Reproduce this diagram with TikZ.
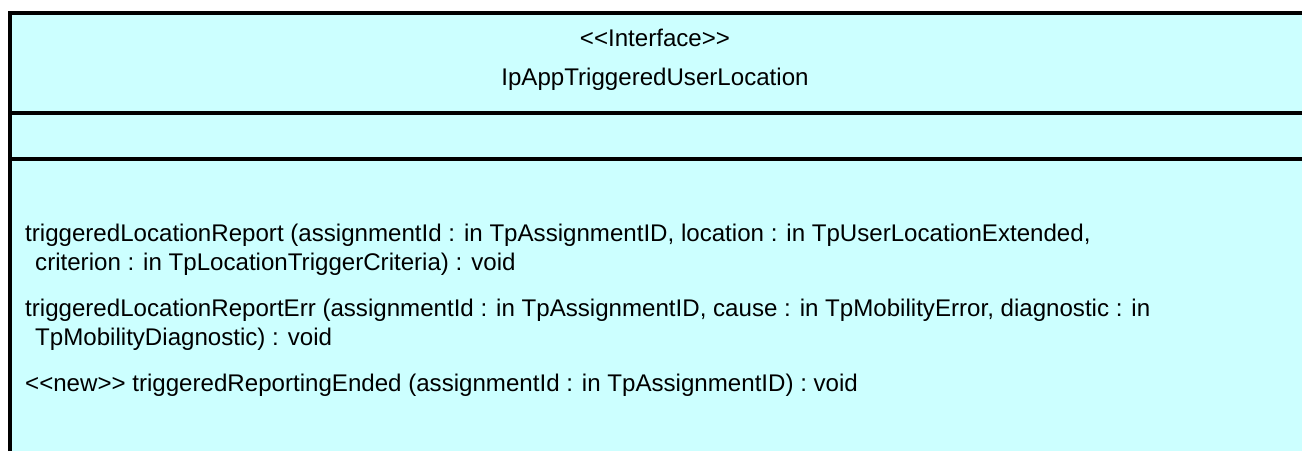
\documentclass[tikz,border=0pt]{standalone}
\usepackage{fontspec}
\setmainfont{Liberation Sans}
\usepackage{xcolor}
\usetikzlibrary{positioning}
\definecolor{classcyan}{RGB}{204,255,255}
\tikzstyle{rule} = [draw, line width=4pt]

\begin{document}
\begin{tikzpicture}[x=1pt, y=-1pt, header/.style={anchor=base, inner sep=0pt, font=\fontsize{24.1}{28}\selectfont}, oper/.style={anchor=base west, inner sep=0pt, font=\fontsize{24.1}{28}\selectfont}]
        \useasboundingbox (0,0) rectangle (1302,451);
        \fill[classcyan] (8,11) rectangle (1302,451);
        \path [rule] (10,451) -- (10,13) -- (1302,13);
        \path [rule] (8,113) -- (1302,113);
        \path [rule] (8,158.5) -- (1302,158.5);

        \node[header] (Stereo) at (655,46) {<{}<Interface>{}>};
        \node[header] (ClassName) at (655,85) {IpAppTriggeredUserLocation};

        \node[oper] (OpReport) at (25,241) {triggeredLocationReport (assignmentId : in TpAssignmentID, location : in TpUserLocationExtended,};
        \node[oper] (OpReportB) at (35,270) {criterion : in TpLocationTriggerCriteria) : void};
        \node[oper] (OpErr) at (25,316) {triggeredLocationReportErr (assignmentId : in TpAssignmentID, cause : in TpMobilityError, diagnostic : in};
        \node[oper] (OpErrB) at (35,345) {TpMobilityDiagnostic) : void};
        \node[oper] (OpEnded) at (25,391) {<{}<new>{}> triggeredReportingEnded (assignmentId : in TpAssignmentID) : void};
    \end{tikzpicture}
\end{document}
